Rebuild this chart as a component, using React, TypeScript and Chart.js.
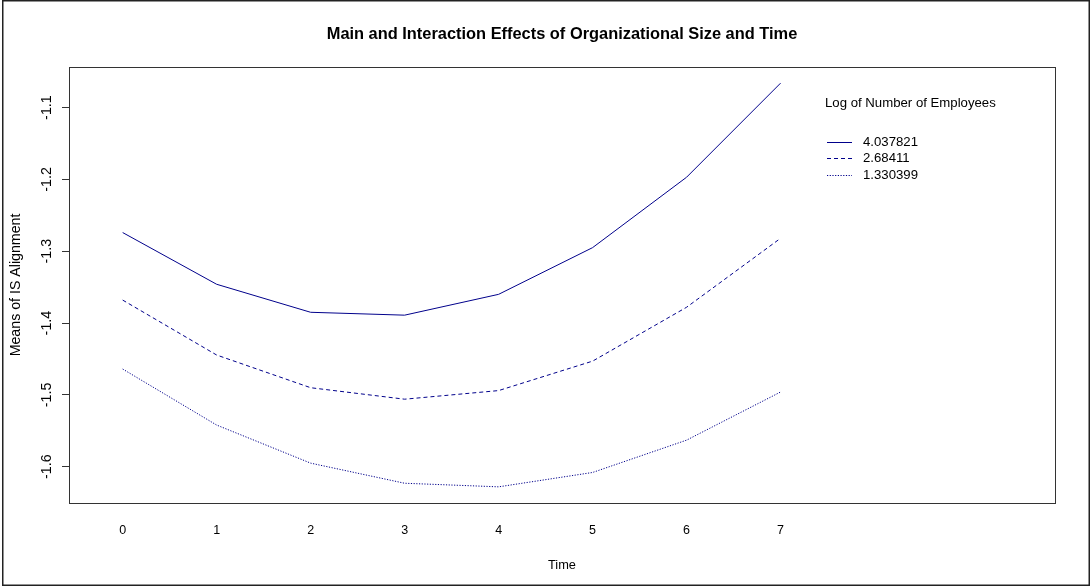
import React, { useEffect, useRef } from "react";
import { Chart, registerables } from "chart.js";

Chart.register(...registerables);

const times = [0, 1, 2, 3, 4, 5, 6, 7];
const sizeHigh = [-1.274, -1.346, -1.385, -1.389, -1.360, -1.295, -1.197, -1.066];
const sizeMid = [-1.368, -1.4445, -1.490, -1.506, -1.494, -1.453, -1.378, -1.282];
const sizeLow = [-1.464, -1.542, -1.595, -1.623, -1.628, -1.608, -1.563, -1.496];
const seriesLabels = ["4.037821", "2.68411", "1.330399"];
const xTicks = [0, 1, 2, 3, 4, 5, 6, 7];
const yTicks = [-1.6, -1.5, -1.4, -1.3, -1.2, -1.1];
const yTickLabels = ["-1.6", "-1.5", "-1.4", "-1.3", "-1.2", "-1.1"];

const W = 1092;
const H = 588;
const FONT = "'Liberation Sans', Arial, Helvetica, sans-serif";
const LINE = "#00008B";

export default function App() {
  const ref = useRef<HTMLCanvasElement>(null);

  useEffect(() => {
    const canvas = ref.current;
    if (!canvas) return;
    Chart.defaults.color = "#000";
    Chart.defaults.font.family = FONT;

    const framePlugin = {
      id: "framePlugin",
      afterDraw(chart: any) {
        const ctx = chart.ctx;
        const a = chart.chartArea;
        ctx.save();
        ctx.setLineDash([]);
        ctx.strokeStyle = "#333";
        ctx.lineWidth = 1;
        ctx.strokeRect(
          Math.round(a.left) + 0.5,
          Math.round(a.top) + 0.5,
          Math.round(a.right - a.left),
          Math.round(a.bottom - a.top)
        );
        ctx.lineWidth = 1.5;
        ctx.strokeStyle = "#222";
        ctx.strokeRect(2.75, 0.75, 1086.5, 584.5);

        ctx.fillStyle = "#000";
        ctx.font = `13.2px ${FONT}`;
        ctx.textBaseline = "middle";
        ctx.textAlign = "left";
        ctx.fillText("Log of Number of Employees", 825, 103.5);
        chart.data.datasets.forEach((ds: any, i: number) => {
          const y = 141.5 + i * 16.5;
          ctx.strokeStyle = ds.borderColor;
          ctx.lineWidth = 1;
          ctx.setLineDash(ds.borderDash || []);
          ctx.beginPath();
          ctx.moveTo(827, Math.round(y) + 0.5);
          ctx.lineTo(852, Math.round(y) + 0.5);
          ctx.stroke();
          ctx.setLineDash([]);
          ctx.fillText(ds.label, 863, y + 0.5);
        });
        ctx.restore();
      },
    };

    const mk = (vals: number[]) => times.map((t, i) => ({ x: t, y: vals[i] }));

    const chart = new Chart(canvas, {
      type: "line",
      data: {
        datasets: [
          { label: seriesLabels[0], data: mk(sizeHigh), borderColor: LINE, borderWidth: 1, borderDash: [], pointRadius: 0, tension: 0, fill: false },
          { label: seriesLabels[1], data: mk(sizeMid), borderColor: LINE, borderWidth: 1, borderDash: [4, 3], pointRadius: 0, tension: 0, fill: false },
          { label: seriesLabels[2], data: mk(sizeLow), borderColor: LINE, borderWidth: 1, borderDash: [1.2, 1.5], pointRadius: 0, tension: 0, fill: false },
        ],
      },
      options: {
        responsive: false,
        animation: false,
        layout: { padding: { left: 0, right: 37, top: 0, bottom: 0 } },
        plugins: {
          legend: { display: false },
          tooltip: { enabled: false },
          title: {
            display: true,
            text: "Main and Interaction Effects of Organizational Size and Time",
            fullSize: false,
            font: { family: FONT, size: 16.4, weight: "bold", lineHeight: 1.2 },
            color: "#000",
            padding: { top: 25, bottom: 22.3 },
          },
        },
        scales: {
          x: {
            type: "linear",
            min: -0.571,
            max: 9.92,
            afterBuildTicks: (scale: any) => {
              scale.ticks = xTicks.map((v) => ({ value: v }));
            },
            afterFit: (scale: any) => {
              scale.height = 85;
            },
            ticks: {
              autoSkip: false,
              maxRotation: 0,
              minRotation: 0,
              padding: 20,
              font: { family: FONT, size: 12.5 },
              color: "#000",
              callback: (v: any) => String(v),
            },
            grid: { display: false, drawTicks: false },
            border: { display: false },
            title: {
              display: true,
              text: "Time",
              font: { family: FONT, size: 12.8 },
              color: "#000",
              padding: { top: 0, bottom: 15.3 },
            },
          },
          y: {
            type: "linear",
            min: -1.6505,
            max: -1.0435,
            afterBuildTicks: (scale: any) => {
              scale.ticks = yTicks.map((v) => ({ value: v }));
            },
            afterFit: (scale: any) => {
              scale.width = 69;
            },
            ticks: {
              autoSkip: false,
              minRotation: 90,
              maxRotation: 90,
              crossAlign: "center",
              padding: 3,
              font: { family: FONT, size: 14.3 },
              color: "#000",
              callback: (v: any) => {
                const idx = yTicks.findIndex((t) => Math.abs(t - v) < 1e-9);
                return idx >= 0 ? yTickLabels[idx] : "";
              },
            },
            grid: {
              display: true,
              drawOnChartArea: false,
              drawTicks: true,
              tickLength: 7,
              color: "#333",
            },
            border: { display: false },
            title: {
              display: true,
              text: "Means of IS Alignment",
              font: { family: FONT, size: 14.2 },
              color: "#000",
              padding: { top: 7.5, bottom: 0 },
            },
          },
        },
      },
      plugins: [framePlugin],
    } as any);

    return () => chart.destroy();
  }, []);

  return (
    <div style={{ position: "absolute", left: 0, top: 0, width: W, height: H, background: "#fff" }}>
      <canvas ref={ref} width={W} height={H} style={{ display: "block", width: W, height: H }} />
    </div>
  );
}
